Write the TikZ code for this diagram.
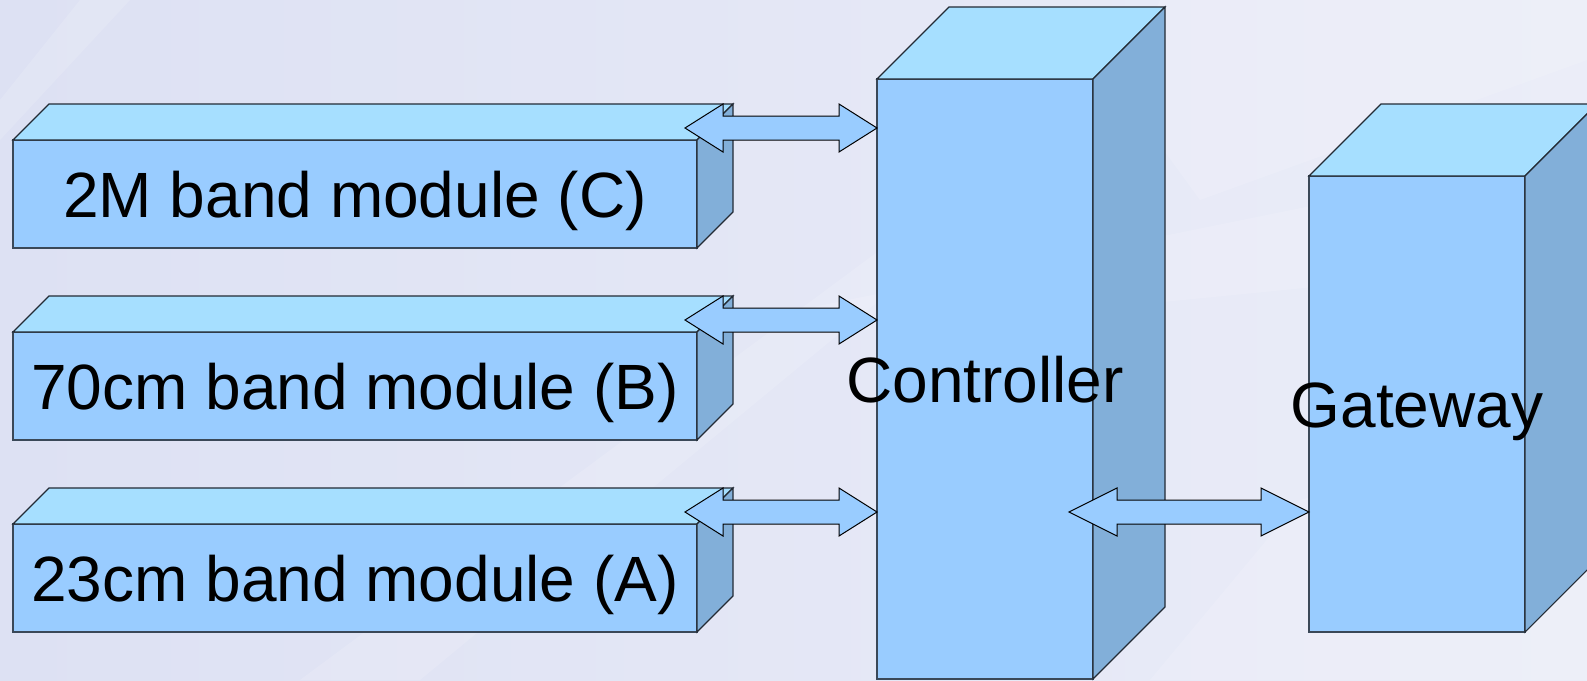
\documentclass[tikz,border=0pt]{standalone}
\usepackage{fontspec}
\setmainfont{Liberation Sans}
\usetikzlibrary{calc}

\definecolor{frontblue}{HTML}{99CCFF}
\definecolor{topblue}{HTML}{A6DFFF}
\definecolor{sideblue}{HTML}{82AFD9}
\definecolor{edgegray}{HTML}{3A4858}
\definecolor{bgA}{HTML}{DDE1F3}
\definecolor{bgB}{HTML}{EBEDF8}

\tikzset{
  face/.style={draw=edgegray, line width=1.3pt, fill=frontblue, inner sep=0pt,
    outer sep=0pt, font=\fontsize{64}{77}\selectfont, text height=46pt, text depth=0pt},
  boxlabel/.style={inner sep=0pt, font=\fontsize{64}{77}\selectfont,
    text height=46pt, text depth=0pt},
  topface/.style={fill=topblue, draw=edgegray!60!black, line width=1.1pt, line join=miter},
  sideface/.style={fill=sideblue, draw=edgegray!60!black, line width=1.1pt, line join=miter},
  blockarrow/.style={fill=frontblue, draw=black, line width=1pt, line join=miter},
  streak/.style={fill=white, opacity=0.14},
}

% top and side faces of a box whose front face is node #1, depth #2
\newcommand\cuboidfaces[2]{%
  \draw[topface] (#1.north west) -- ++(#2,-#2) -- ($(#1.north east)+(#2,-#2)$)
    -- (#1.north east) -- cycle;
  \draw[sideface] (#1.north east) -- ++(#2,-#2) -- ($(#1.south east)+(#2,-#2)$)
    -- (#1.south east) -- cycle;
}

% horizontal double-headed block arrow from tip #1 to tip #2, head length #3
\newcommand\dblarrow[3]{%
  \draw[blockarrow] (#1) -- ($(#1)+(#3,-24)$) -- ($(#1)+(#3,-12)$)
    -- ($(#2)+(-#3,-12)$) -- ($(#2)+(-#3,-24)$) -- (#2)
    -- ($(#2)+(-#3,24)$) -- ($(#2)+(-#3,12)$)
    -- ($(#1)+(#3,12)$) -- ($(#1)+(#3,24)$) -- cycle;
}

\begin{document}
\begin{tikzpicture}[x=1pt, y=-1pt]
  \useasboundingbox (0,0) rectangle (1587,680);
  \clip (0,0) rectangle (1587,680);

  % background
  \shade[left color=bgA, right color=bgB] (0,0) rectangle (1587,680);
  \fill[streak] (80,0) -- (130,0) -- (0,140) -- (0,100) -- cycle;
  \fill[streak] (1160,0) -- (1587,0) -- (1587,60) -- (1200,200) -- (1120,90) -- cycle;
  \fill[streak] (700,330) -- (1587,150) -- (1587,260) -- (880,330) -- cycle;
  \fill[streak] (1150,680) -- (1300,500) -- (1587,420) -- (1587,680) -- cycle;
  \fill[streak] (300,680) -- (880,250) -- (880,300) -- (420,680) -- cycle;

  % band modules
  \node[face, minimum width=684pt, minimum height=108pt] (modC) at (355,194) {2M band module (C)};
  \cuboidfaces{modC}{36}
  \node[face, minimum width=684pt, minimum height=108pt] (modB) at (355,386) {70cm band module (B)};
  \cuboidfaces{modB}{36}
  \node[face, minimum width=684pt, minimum height=108pt] (modA) at (355,578) {23cm band module (A)};
  \cuboidfaces{modA}{36}

  % controller and gateway
  \node[face, minimum width=216pt, minimum height=600pt] (ctrl) at (985,379) {};
  \cuboidfaces{ctrl}{72}
  \node[boxlabel] (ctrltext) at (ctrl.center) {Controller};

  \node[face, minimum width=216pt, minimum height=456pt] (gw) at (1417,404) {};
  \cuboidfaces{gw}{72}
  \node[boxlabel] (gwtext) at (gw.center) {Gateway};

  % links
  \coordinate (cL) at ($(modC.north east)+(-12,-12)$);
  \coordinate (cR) at (cL -| ctrl.west);
  \coordinate (bL) at ($(modB.north east)+(-12,-12)$);
  \coordinate (bR) at (bL -| ctrl.west);
  \coordinate (aL) at ($(modA.north east)+(-12,-12)$);
  \coordinate (aR) at (aL -| ctrl.west);
  \coordinate (gL) at ($(aL -| ctrl.east)+(-24,0)$);
  \coordinate (gR) at (aL -| gw.west);

  \dblarrow{cL}{cR}{38}
  \dblarrow{bL}{bR}{38}
  \dblarrow{aL}{aR}{38}
  \dblarrow{gL}{gR}{48}
\end{tikzpicture}
\end{document}
